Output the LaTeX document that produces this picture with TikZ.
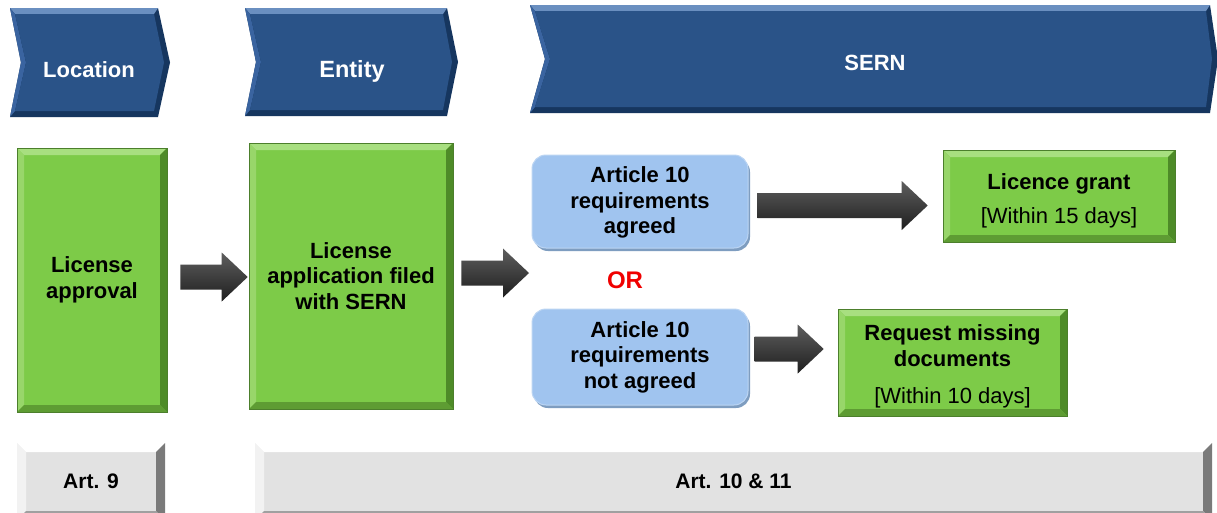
\documentclass[tikz,border=0pt]{standalone}
\usepackage{fontspec}
\setmainfont{Liberation Sans}
\usetikzlibrary{calc,shadows}

\definecolor{chevbase}{HTML}{2A5388}
\definecolor{chevdark}{HTML}{16365F}
\definecolor{chevlight}{HTML}{6A8FC0}
\definecolor{chevmid}{HTML}{3A64A0}
\definecolor{grbase}{HTML}{7DCB48}
\definecolor{grtop}{HTML}{A8DF80}
\definecolor{grleft}{HTML}{98D66A}
\definecolor{grright}{HTML}{4E8B28}
\definecolor{grbot}{HTML}{5E9C33}
\definecolor{grline}{HTML}{4C7F2C}
\definecolor{blbase}{HTML}{A0C4EF}
\definecolor{blshadow}{HTML}{7E9DC0}
\definecolor{blline}{HTML}{BCD5F3}
\definecolor{gybase}{HTML}{E2E2E2}
\definecolor{gyleft}{HTML}{F2F2F2}
\definecolor{gyright}{HTML}{7A7A7A}
\definecolor{gybot}{HTML}{A0A0A0}
\definecolor{artop}{HTML}{5E5E5E}
\definecolor{arbot}{HTML}{1E1E1E}
\definecolor{orred}{HTML}{F00000}

\newcommand\chevshape[6]{% x0 x1 xnotch xpoint top bottom
  \fill[chevdark] (#1,#5) -- (#2,#5) -- (#4,{(#5+#6)/2}) -- (#2,#6) -- (#1,#6) -- (#3,{(#5+#6)/2}) -- cycle;
  \fill[chevlight] (#1,#5) -- (#2,#5) -- (#2-4,#5+6) -- (#1+5,#5+6) -- cycle;
  \fill[chevmid] (#1,#5) -- (#1+5,#5+6) -- (#3+5,{(#5+#6)/2}) -- (#1+5,#6-6) -- (#1,#6) -- (#3,{(#5+#6)/2}) -- cycle;
  \fill[chevbase] (#1+5,#5+6) -- (#2-4,#5+6) -- (#4-6,{(#5+#6)/2}) -- (#2-4,#6-6) -- (#1+5,#6-6) -- (#3+5,{(#5+#6)/2}) -- cycle;
}

\newcommand\blockarrow[2]{%
  \shade[top color=artop, bottom color=arbot]
    let \p1=(#1), \p2=(#2) in
    (\x1,\y1+12.5pt) -- (\x2-26pt,\y1+12.5pt) -- (\x2-26pt,\y1+24.5pt) -- (\x2,\y1)
    -- (\x2-26pt,\y1-24.5pt) -- (\x2-26pt,\y1-12.5pt) -- (\x1,\y1-12.5pt) -- cycle;
}

\tikzset{
  bevel/.style n args={5}{path picture={
    \coordinate (NW) at (path picture bounding box.north west);
    \coordinate (NE) at (path picture bounding box.north east);
    \coordinate (SW) at (path picture bounding box.south west);
    \coordinate (SE) at (path picture bounding box.south east);
    \fill[#2] (NW) -- (NE) -- ([shift={(-#1,-#1)}]NE) -- ([shift={(#1,-#1)}]NW) -- cycle;
    \fill[#3] (NW) -- ([shift={(#1,-#1)}]NW) -- ([shift={(#1,#1)}]SW) -- (SW) -- cycle;
    \fill[#4] (NE) -- (SE) -- ([shift={(-#1,#1)}]SE) -- ([shift={(-#1,-#1)}]NE) -- cycle;
    \fill[#5] (SW) -- (SE) -- ([shift={(-#1,#1)}]SE) -- ([shift={(#1,#1)}]SW) -- cycle;
  }},
  basefont/.style={font=\fontsize{22}{25.5}\selectfont\bfseries, align=center, inner sep=0pt},
  greenbox/.style={basefont, rectangle, fill=grbase, draw=grline, line width=0.6pt,
    bevel={7pt}{grtop}{grleft}{grright}{grbot}},
  bluebox/.style={basefont, rectangle, rounded corners=14pt, fill=blbase, draw=blline, line width=1pt,
    drop shadow={shadow xshift=2pt, shadow yshift=-3pt, fill=blshadow, opacity=1}},
  graybar/.style={basefont, font=\fontsize{21}{25}\selectfont\bfseries, rectangle, fill=gybase,
    bevel={9pt}{white}{gyleft}{gyright}{gybot}},
  chevtext/.style={font=\fontsize{22}{25}\selectfont\bfseries, text=white, inner sep=0pt},
}

\begin{document}
\begin{tikzpicture}[x=1pt,y=-1pt]
\clip (0,0) rectangle (1217,512);
\fill[white] (0,0) rectangle (1217,512);

% header chevrons
\chevshape{10}{158}{21}{170}{8}{117}
\chevshape{245}{447}{256}{458}{8}{116}
\chevshape{530}{1210}{545}{1218}{5}{113}
\node[chevtext] (loc) at (89,70) {Location};
\node[chevtext, font=\fontsize{23.5}{26}\selectfont\bfseries] (ent) at (352,71) {Entity};
\node[chevtext] (sern) at (875,63) {SERN};

% green boxes
\node[greenbox, minimum width=150pt, minimum height=264pt] (approve) at (92,280) {License\\approval};
\node[greenbox, minimum width=204pt, minimum height=266pt] (apply) at (351,276) {License\\application filed\\with SERN};
\node[greenbox, minimum width=232pt, minimum height=92pt] (grant) at (1059,196) {\rule{0pt}{26pt}Licence grant\\[9pt]{\mdseries [Within 15 days]}};
\node[greenbox, minimum width=229pt, minimum height=107pt] (request) at (952.5,362.5) {\rule{0pt}{24pt}Request missing\\documents\\[12pt]{\mdseries [Within 10 days]}};

% blue rounded boxes
\node[bluebox, minimum width=216pt, minimum height=93pt] (agreed) at (640,201.5) {\rule{0pt}{18pt}Article 10\\requirements\\agreed};
\node[bluebox, minimum width=216pt, minimum height=96pt] (notagreed) at (640,357) {Article 10\\requirements\\not agreed};

\node[font=\fontsize{24}{26}\selectfont\bfseries, text=orred, inner sep=0pt] (or) at (625,280) {OR};

% bottom bars
\node[graybar, minimum width=148pt, minimum height=77pt] (art9) at (91,481.5) {Art. 9};
\node[graybar, minimum width=957pt, minimum height=77pt] (art10) at (733.5,481.5) {Art. 10 \& 11};

% block arrows
\coordinate (split) at (529,273);
\blockarrow{$(approve.east)+(13,-3)$}{$(apply.west)+(-1,0)$}
\blockarrow{$(apply.east)+(8,-3)$}{split}
\blockarrow{$(agreed.east)+(9,4)$}{$(grant.west)+(-15,0)$}
\blockarrow{$(notagreed.east)+(6,-8)$}{$(request.west)+(-14,0)$}
\end{tikzpicture}
\end{document}
